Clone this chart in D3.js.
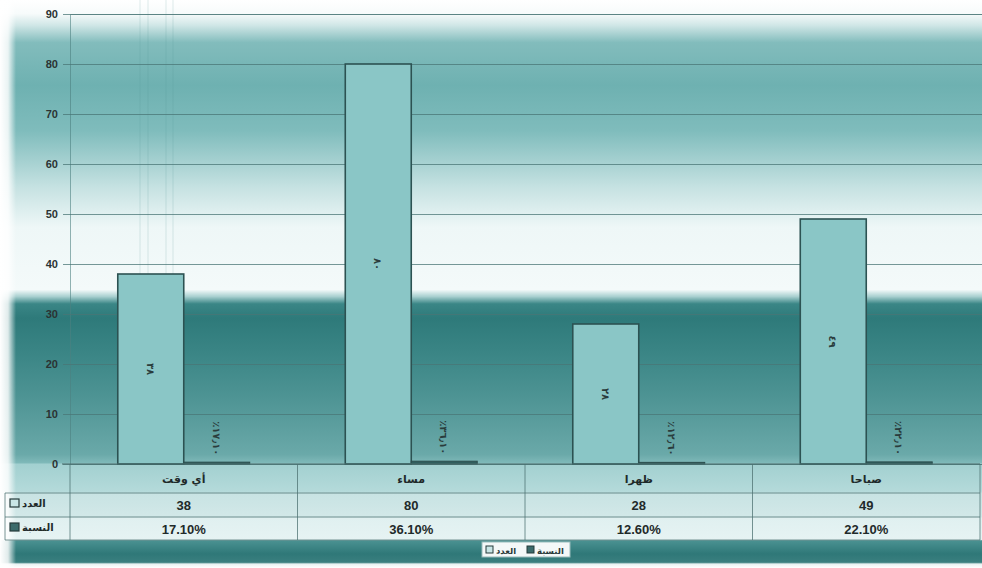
<!DOCTYPE html>
<html><head><meta charset="utf-8">
<script src="https://cdn.jsdelivr.net/npm/d3@7/dist/d3.min.js"></script>
<style>
html,body{margin:0;padding:0;background:#fff;}
svg{display:block;}
</style></head>
<body>
<svg id="chart" width="982" height="568"></svg>
<script>
// ---- data ----
const categories = ["أي وقت", "مساء", "ظهرا", "صباحا"];
const countValues = [38, 80, 28, 49];
const pctValues = [0.171, 0.361, 0.126, 0.221];
const pctLabels = ["17.10%", "36.10%", "12.60%", "22.10%"];
const countBarLabels = ["٣٨", "٨٠", "٢٨", "٤٩"];
const pctBarLabels = ["٪١٧٫١٠", "٪٣٦٫١٠", "٪١٢٫٦٠", "٪٢٢٫١٠"];
const seriesNames = ["العدد", "النسبة"];
const yTicks = [0, 10, 20, 30, 40, 50, 60, 70, 80, 90];

const W = 982, H = 568;
const svg = d3.select("#chart");
const defs = svg.append("defs");

// background gradient
const bg = defs.append("linearGradient").attr("id","bg").attr("x1",0).attr("y1",0).attr("x2",0).attr("y2",1);
[[0,"#ffffff"],[0.024,"#f7fbfb"],[0.045,"#cfe6e6"],[0.075,"#82bcbc"],[0.15,"#6eb1b1"],[0.23,"#7fbcbc"],
 [0.33,"#c6e2e2"],[0.40,"#eef7f7"],[0.51,"#f4fafa"],[0.522,"#a9d0d0"],[0.535,"#3a8686"],[0.56,"#2e7a7a"],
 [0.62,"#3a8585"],[0.70,"#4e9494"],[0.80,"#6aa9a9"],[0.815,"#7fb9b9"],
 [0.817,"#a2d0d0"],[0.865,"#b4dada"],[0.869,"#c8e3e3"],[0.91,"#d2e8e8"],[0.912,"#e0f0f0"],[0.95,"#e6f3f3"],
 [0.952,"#4a9191"],[0.975,"#2f7878"],[0.99,"#3a7f7f"],[0.993,"#e8f2f2"],[1,"#ffffff"]]
 .forEach(([o,c])=>bg.append("stop").attr("offset",o).attr("stop-color",c));
svg.append("rect").attr("x",0).attr("y",0).attr("width",W).attr("height",H).attr("fill","url(#bg)");

// left white fade
const lf = defs.append("linearGradient").attr("id","lf").attr("x1",0).attr("y1",0).attr("x2",1).attr("y2",0);
lf.append("stop").attr("offset",0).attr("stop-color","#fff").attr("stop-opacity",1);
lf.append("stop").attr("offset",0.5).attr("stop-color","#fff").attr("stop-opacity",0.85);
lf.append("stop").attr("offset",1).attr("stop-color","#fff").attr("stop-opacity",0);
svg.append("rect").attr("x",0).attr("y",0).attr("width",16).attr("height",H).attr("fill","url(#lf)");

// ---- scales ----
const plotL = 70, plotR = 980, plotT = 14, plotB = 464;
const y = d3.scaleLinear().domain([0, 90]).range([plotB, plotT]);
const x0 = d3.scaleBand().domain(categories).range([plotL, plotR]).paddingInner(0.42).paddingOuter(0.21);
const x1 = d3.scaleBand().domain(seriesNames).range([0, x0.bandwidth()]);
const step = x0.step();

// faint scan lines
[140, 148, 166, 173].forEach(v => svg.append("line").attr("x1",v).attr("x2",v).attr("y1",0).attr("y2",plotB)
  .attr("stroke","#4f8f8f").attr("stroke-opacity",0.18).attr("stroke-width",1));

// gridlines + y axis
const yAxis = d3.axisLeft(y).tickValues(yTicks).tickSize(-(plotR - plotL) - 2).tickPadding(12).tickFormat(d3.format("d"));
const gy = svg.append("g").attr("transform", `translate(${plotL},0)`).call(yAxis);
gy.select(".domain").attr("stroke","#4d8080").attr("stroke-opacity",0.6);
gy.selectAll(".tick line").attr("stroke","#4a7676").attr("stroke-opacity",0.75).attr("x1",-7);
gy.selectAll(".tick text").attr("fill","#2b3333").attr("font-family","'Liberation Sans', Arial, sans-serif")
  .attr("font-size",11).attr("font-weight","bold");

// ---- bars ----
const groups = svg.append("g").selectAll("g").data(categories).join("g")
  .attr("transform", d => `translate(${x0(d)},0)`);

groups.append("rect")
  .attr("x", x1(seriesNames[0]))
  .attr("y", (d,i) => y(countValues[i]))
  .attr("width", x1.bandwidth())
  .attr("height", (d,i) => y(0) - y(countValues[i]))
  .attr("fill", "#8ac6c6").attr("stroke", "#2c5252").attr("stroke-width", 1.6);

groups.append("rect")
  .attr("x", x1(seriesNames[1]))
  .attr("y", (d,i) => y(pctValues[i]) - 1)
  .attr("width", x1.bandwidth())
  .attr("height", (d,i) => y(0) - y(pctValues[i]) + 1)
  .attr("fill", "#2f5e5e").attr("stroke", "#2c4e4e").attr("stroke-width", 1);

// bar labels (rotated)
groups.append("text")
  .attr("transform", (d,i) => `translate(${x1(seriesNames[0]) + x1.bandwidth()/2 - 4},${(y(countValues[i]) + y(0))/2}) rotate(90)`)
  .attr("text-anchor","middle").attr("font-family","'DejaVu Sans', sans-serif").attr("font-size",10).attr("font-weight","bold")
  .attr("fill","#2a3c3c").text((d,i) => countBarLabels[i]);

groups.append("text")
  .attr("transform", (d,i) => `translate(${x1(seriesNames[1]) + x1.bandwidth()/2 - 4},${y(pctValues[i]) - 42}) rotate(90)`)
  .attr("text-anchor","start").attr("font-family","'DejaVu Sans', sans-serif").attr("font-size",10).attr("font-weight","bold")
  .attr("fill","#2a3c3c").text((d,i) => pctBarLabels[i]);

// ---- data table ----
const rowY = [464, 493, 517, 540];
const tbl = svg.append("g").attr("stroke","#4c7070").attr("stroke-opacity",0.75).attr("stroke-width",1);
tbl.append("line").attr("x1",plotL-8).attr("x2",plotR).attr("y1",rowY[0]).attr("y2",rowY[0]).attr("stroke-width",1.4);
[1,2,3].forEach(k => tbl.append("line").attr("x1",5).attr("x2",plotR).attr("y1",rowY[k]).attr("y2",rowY[k]));
tbl.append("line").attr("x1",5).attr("x2",5).attr("y1",rowY[1]).attr("y2",rowY[3]);
d3.range(categories.length + 1).forEach(k => {
  const xx = plotL + k * step;
  tbl.append("line").attr("x1",xx).attr("x2",xx).attr("y1",rowY[0]).attr("y2",rowY[3]);
});

const tf = "'DejaVu Sans', sans-serif";
const txt = svg.append("g").attr("fill","#1f2a2a").attr("font-weight","bold").attr("text-anchor","middle");
categories.forEach((c,i) => {
  const cx = plotL + (i + 0.5) * step;
  txt.append("text").attr("x",cx).attr("y",483).attr("font-family",tf).attr("font-size",11).text(c);
  txt.append("text").attr("x",cx).attr("y",510).attr("font-family","'Liberation Sans', Arial, sans-serif").attr("font-size",13).text(countValues[i]);
  txt.append("text").attr("x",cx).attr("y",534).attr("font-family","'Liberation Sans', Arial, sans-serif").attr("font-size",13).text(pctLabels[i]);
});

// row headers with keys
const keyFill = ["#c9e6e6", "#3b6b6b"];
[[499, seriesNames[0]], [523, seriesNames[1]]].forEach(([yy, name], k) => {
  svg.append("rect").attr("x",10).attr("y",yy).attr("width",9).attr("height",8)
    .attr("fill",keyFill[k]).attr("stroke","#253a3a").attr("stroke-width",1.2);
  svg.append("text").attr("x",22).attr("y",yy + 8).attr("font-family",tf).attr("font-size",10).attr("font-weight","bold")
    .attr("fill","#1f2a2a").attr("text-anchor","start").text(name);
});

// ---- legend ----
const lg = svg.append("g").attr("transform","translate(482,542)");
lg.append("rect").attr("x",0).attr("y",0).attr("width",88).attr("height",15).attr("fill","#f4f8f8").attr("stroke","#9bb","stroke-width",0.5);
const legendItems = [[4, seriesNames[0], keyFill[0]], [45, seriesNames[1], keyFill[1]]];
legendItems.forEach(([lx, name, col]) => {
  lg.append("rect").attr("x",lx).attr("y",4).attr("width",7).attr("height",7).attr("fill",col).attr("stroke","#253a3a").attr("stroke-width",1);
  lg.append("text").attr("x",lx + 10).attr("y",11.5).attr("font-family",tf).attr("font-size",8.5).attr("font-weight","bold")
    .attr("fill","#2a3a3a").text(name);
});
</script>
</body></html>
